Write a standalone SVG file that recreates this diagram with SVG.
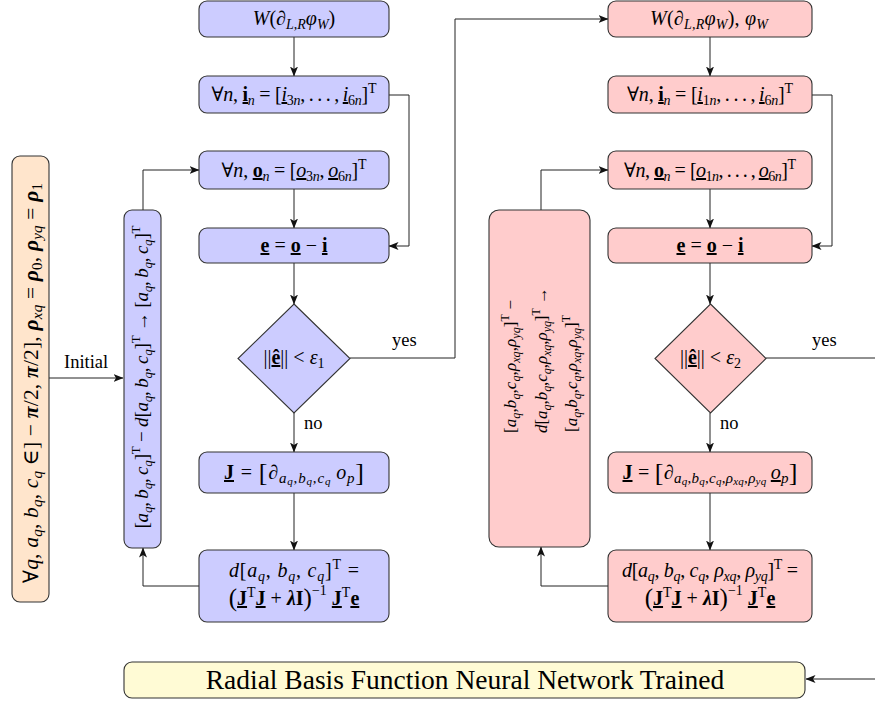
<svg xmlns="http://www.w3.org/2000/svg" width="875" height="702" viewBox="0 0 875 702">
  <style>
    .t { font-family: "Liberation Serif", "DejaVu Serif", serif; font-size: 20px; fill: #000; text-anchor: middle; }
    .v { font-size: 19px; }
    .vo { font-size: 21.5px; }
    .vr { font-size: 17px; text-anchor: start; }
    .lbl { font-family: "Liberation Serif", "DejaVu Serif", serif; font-size: 18.5px; fill: #000; }
    .i { font-style: italic; }
    .b { font-weight: bold; }
    .u { text-decoration: underline; }
    .s { font-size: 14px; }
    .js { font-size: 15px; }
    .vs { font-size: 13px; }
    .os { font-size: 15px; }
    .rs { font-size: 12px; }
    .ss { font-size: 11px; }
    .br { font-size: 26px; }
    .pa { font-size: 25px; }
    .blue { fill: #ccccff; stroke: #333; stroke-width: 1.1; }
    .red { fill: #ffcccc; stroke: #333; stroke-width: 1.1; }
    .orange { fill: #ffe5cc; stroke: #333; stroke-width: 1.1; }
    .yellow { fill: #fffbd5; stroke: #333; stroke-width: 1.1; }
    .c { fill: none; stroke: #222; stroke-width: 1; marker-end: url(#arr); }
  </style>
  <defs>
    <marker id="arr" viewBox="0 0 10 8" refX="9.5" refY="4" markerWidth="10" markerHeight="8" markerUnits="userSpaceOnUse" orient="auto">
      <path d="M0,0 L10,4 L0,8 L2.5,4 z" fill="#111"/>
    </marker>
  </defs>

  <!-- connectors -->
  <g id="connectors">
    <!-- initial input -->
    <path class="c" d="M49,378 H123"/>
    <!-- left (blue) loop -->
    <path class="c" d="M294,37 V76"/>
    <path class="c" d="M389,95 H409 V246 H389"/>
    <path class="c" d="M294,189 V228"/>
    <path class="c" d="M294,263 V304"/>
    <path class="c" d="M294,413 V452"/>
    <path class="c" d="M294,493 V550"/>
    <path class="c" d="M199,586 H143 V548"/>
    <path class="c" d="M143,210 V170 H199"/>
    <path class="c" d="M350,358 H455 V19 H608"/>
    <!-- right (red) loop -->
    <path class="c" d="M710,37 V76"/>
    <path class="c" d="M812,95 H832 V246 H812"/>
    <path class="c" d="M710,189 V228"/>
    <path class="c" d="M710,263 V304"/>
    <path class="c" d="M710,413 V452"/>
    <path class="c" d="M710,493 V550"/>
    <path class="c" d="M608,586 H541 V547"/>
    <path class="c" d="M541,210 V170 H608"/>
    <path class="c" d="M766,358 H885 V679 H806"/>
    <!-- edge labels -->
    <text class="lbl" x="64" y="368">Initial</text>
    <text class="lbl" x="392" y="346">yes</text>
    <text class="lbl" x="304" y="429">no</text>
    <text class="lbl" x="812" y="346">yes</text>
    <text class="lbl" x="720" y="429">no</text>
  </g>

  <!-- initial parameters -->
  <g id="init">
    <rect class="orange" x="12" y="156" width="37" height="446" rx="8"/>
    <text class="t vo" transform="translate(38,383) rotate(-90)" textLength="400" lengthAdjust="spacing">∀<tspan class="i">q</tspan>, <tspan class="i">a</tspan><tspan class="os i" dy="4">q</tspan><tspan dy="-4">, </tspan><tspan class="i">b</tspan><tspan class="os i" dy="4">q</tspan><tspan dy="-4">, </tspan><tspan class="i">c</tspan><tspan class="os i" dy="4">q</tspan><tspan dy="-4"> ∈] − </tspan><tspan class="i b">π</tspan><tspan>/2, </tspan><tspan class="i b">π</tspan><tspan>/2], </tspan><tspan class="i b">ρ</tspan><tspan class="os i" dy="4">xq</tspan><tspan dy="-4"> = </tspan><tspan class="i b">ρ</tspan><tspan class="os" dy="4">0</tspan><tspan dy="-4">, </tspan><tspan class="i b">ρ</tspan><tspan class="os i" dy="4">yq</tspan><tspan dy="-4"> = </tspan><tspan class="i b">ρ</tspan><tspan class="os" dy="4">1</tspan></text>
  </g>

  <!-- blue column -->
  <g id="b-w">
    <rect class="blue" x="199" y="1" width="190" height="36" rx="8"/>
    <text class="t" x="294" y="25"><tspan class="i">W</tspan>(∂<tspan class="s i" dy="4">L,R</tspan><tspan class="i" dy="-4">φ</tspan><tspan class="s i" dy="4">W</tspan><tspan dy="-4">)</tspan></text>
  </g>
  <g id="b-in">
    <rect class="blue" x="199" y="76" width="190" height="37" rx="8"/>
    <text class="t" x="294" y="101" textLength="165" lengthAdjust="spacing">∀<tspan class="i">n</tspan>, <tspan class="b u">i</tspan><tspan class="s i" dy="4">n</tspan><tspan dy="-4"> = [</tspan><tspan class="i u">i</tspan><tspan class="s" dy="4">3<tspan class="i">n</tspan></tspan><tspan dy="-4">,&#8201;.&#8201;.&#8201;.&#8201;,&#8201;</tspan><tspan class="i u">i</tspan><tspan class="s" dy="4">6<tspan class="i">n</tspan></tspan><tspan dy="-4">]</tspan><tspan class="s" dy="-8">T</tspan></text>
  </g>
  <g id="b-out">
    <rect class="blue" x="199" y="151" width="190" height="38" rx="8"/>
    <text class="t" x="294" y="177" textLength="145" lengthAdjust="spacing">∀<tspan class="i">n</tspan>, <tspan class="b u">o</tspan><tspan class="s i" dy="4">n</tspan><tspan dy="-4"> = [</tspan><tspan class="i u">o</tspan><tspan class="s" dy="4">3<tspan class="i">n</tspan></tspan><tspan dy="-4">,&#8201;</tspan><tspan class="i u">o</tspan><tspan class="s" dy="4">6<tspan class="i">n</tspan></tspan><tspan dy="-4">]</tspan><tspan class="s" dy="-8">T</tspan></text>
  </g>
  <g id="b-err">
    <rect class="blue" x="199" y="228" width="190" height="35" rx="8"/>
    <text class="t" x="294" y="252"><tspan class="b u">e</tspan> = <tspan class="b u">o</tspan> − <tspan class="b u">i</tspan></text>
  </g>
  <g id="b-test">
    <path class="blue" d="M294,304 L350,358.5 L294,413 L238,358.5 z"/>
    <text class="t" x="294" y="364">||<tspan class="b u">ê</tspan>|| &lt; <tspan class="i">ε</tspan><tspan class="s" dy="4">1</tspan></text>
  </g>
  <g id="b-jac">
    <rect class="blue" x="199" y="452" width="190" height="41" rx="8"/>
    <text class="t" x="294" y="479" textLength="140" lengthAdjust="spacing"><tspan class="b u">J</tspan> = <tspan class="br" dy="2">[</tspan><tspan dy="-2">∂</tspan><tspan class="js i" dy="4">a</tspan><tspan class="ss i" dy="2">q</tspan><tspan class="js" dy="-2">,</tspan><tspan class="js i">b</tspan><tspan class="ss i" dy="2">q</tspan><tspan class="js" dy="-2">,</tspan><tspan class="js i">c</tspan><tspan class="ss i" dy="2">q</tspan><tspan class="i" dy="-6">&#8201;o</tspan><tspan class="js i" dy="4">p</tspan><tspan class="br" dy="-2">]</tspan></text>
  </g>
  <g id="b-step">
    <rect class="blue" x="199" y="550" width="190" height="72" rx="8"/>
    <text class="t" x="294" y="577" textLength="130" lengthAdjust="spacing"><tspan class="i">d</tspan>[<tspan class="i">a</tspan><tspan class="s i" dy="4">q</tspan><tspan dy="-4">, </tspan><tspan class="i">b</tspan><tspan class="s i" dy="4">q</tspan><tspan dy="-4">, </tspan><tspan class="i">c</tspan><tspan class="s i" dy="4">q</tspan><tspan dy="-4">]</tspan><tspan class="s" dy="-8">T</tspan><tspan dy="8"> =</tspan></text>
    <text class="t" x="294" y="605"><tspan class="pa" dy="1">(</tspan><tspan class="b u" dy="-1">J</tspan><tspan class="s" dy="-8">T</tspan><tspan class="b u" dy="8">J</tspan> + <tspan class="i b">λ</tspan><tspan class="b">I</tspan><tspan class="pa" dy="1">)</tspan><tspan class="s" dy="-11">−1</tspan><tspan dy="10"> </tspan><tspan class="b u">J</tspan><tspan class="s" dy="-8">T</tspan><tspan class="b u" dy="8">e</tspan></text>
  </g>
  <g id="b-update">
    <rect class="blue" x="124" y="210" width="37" height="338" rx="8"/>
    <text class="t v" transform="translate(148,377) rotate(-90)" textLength="303" lengthAdjust="spacing">[<tspan class="i">a</tspan><tspan class="vs i" dy="4">q</tspan><tspan dy="-4">,&#8201;</tspan><tspan class="i">b</tspan><tspan class="vs i" dy="4">q</tspan><tspan dy="-4">,&#8201;</tspan><tspan class="i">c</tspan><tspan class="vs i" dy="4">q</tspan><tspan dy="-4">]</tspan><tspan class="vs" dy="-8">T</tspan><tspan dy="8"> − </tspan><tspan class="i">d</tspan>[<tspan class="i">a</tspan><tspan class="vs i" dy="4">q</tspan><tspan dy="-4">,&#8201;</tspan><tspan class="i">b</tspan><tspan class="vs i" dy="4">q</tspan><tspan dy="-4">,&#8201;</tspan><tspan class="i">c</tspan><tspan class="vs i" dy="4">q</tspan><tspan dy="-4">]</tspan><tspan class="vs" dy="-8">T</tspan><tspan dy="8"> → [</tspan><tspan class="i">a</tspan><tspan class="vs i" dy="4">q</tspan><tspan dy="-4">,&#8201;</tspan><tspan class="i">b</tspan><tspan class="vs i" dy="4">q</tspan><tspan dy="-4">,&#8201;</tspan><tspan class="i">c</tspan><tspan class="vs i" dy="4">q</tspan><tspan dy="-4">]</tspan><tspan class="vs" dy="-8">T</tspan></text>
  </g>

  <!-- red column -->
  <g id="r-w">
    <rect class="red" x="608" y="1" width="204" height="36" rx="8"/>
    <text class="t" x="709" y="25" textLength="118" lengthAdjust="spacing"><tspan class="i">W</tspan>(∂<tspan class="s i" dy="4">L,R</tspan><tspan class="i" dy="-4">φ</tspan><tspan class="s i" dy="4">W</tspan><tspan dy="-4">),  </tspan><tspan class="i">φ</tspan><tspan class="s i" dy="4">W</tspan></text>
  </g>
  <g id="r-in">
    <rect class="red" x="608" y="76" width="204" height="37" rx="8"/>
    <text class="t" x="710" y="101" textLength="166" lengthAdjust="spacing">∀<tspan class="i">n</tspan>, <tspan class="b u">i</tspan><tspan class="s i" dy="4">n</tspan><tspan dy="-4"> = [</tspan><tspan class="i u">i</tspan><tspan class="s" dy="4">1<tspan class="i">n</tspan></tspan><tspan dy="-4">,&#8201;.&#8201;.&#8201;.&#8201;,&#8201;</tspan><tspan class="i u">i</tspan><tspan class="s" dy="4">6<tspan class="i">n</tspan></tspan><tspan dy="-4">]</tspan><tspan class="s" dy="-8">T</tspan></text>
  </g>
  <g id="r-out">
    <rect class="red" x="608" y="151" width="204" height="38" rx="8"/>
    <text class="t" x="710" y="177" textLength="172" lengthAdjust="spacing">∀<tspan class="i">n</tspan>, <tspan class="b u">o</tspan><tspan class="s i" dy="4">n</tspan><tspan dy="-4"> = [</tspan><tspan class="i u">o</tspan><tspan class="s" dy="4">1<tspan class="i">n</tspan></tspan><tspan dy="-4">,&#8201;.&#8201;.&#8201;.&#8201;,&#8201;</tspan><tspan class="i u">o</tspan><tspan class="s" dy="4">6<tspan class="i">n</tspan></tspan><tspan dy="-4">]</tspan><tspan class="s" dy="-8">T</tspan></text>
  </g>
  <g id="r-err">
    <rect class="red" x="608" y="228" width="204" height="35" rx="8"/>
    <text class="t" x="710" y="252"><tspan class="b u">e</tspan> = <tspan class="b u">o</tspan> − <tspan class="b u">i</tspan></text>
  </g>
  <g id="r-test">
    <path class="red" d="M710.5,304 L766,358.5 L710.5,413 L655,358.5 z"/>
    <text class="t" x="710.5" y="364">||<tspan class="b u">ê</tspan>|| &lt; <tspan class="i">ε</tspan><tspan class="s" dy="4">2</tspan></text>
  </g>
  <g id="r-jac">
    <rect class="red" x="608" y="452" width="204" height="41" rx="8"/>
    <text class="t" x="710" y="479" textLength="175" lengthAdjust="spacing"><tspan class="b u">J</tspan> = <tspan class="br" dy="2">[</tspan><tspan dy="-2">∂</tspan><tspan class="js i" dy="4">a</tspan><tspan class="ss i" dy="2">q</tspan><tspan class="js" dy="-2">,</tspan><tspan class="js i">b</tspan><tspan class="ss i" dy="2">q</tspan><tspan class="js" dy="-2">,</tspan><tspan class="js i">c</tspan><tspan class="ss i" dy="2">q</tspan><tspan class="js" dy="-2">,</tspan><tspan class="js i">ρ</tspan><tspan class="ss i" dy="2">xq</tspan><tspan class="js" dy="-2">,</tspan><tspan class="js i">ρ</tspan><tspan class="ss i" dy="2">yq</tspan><tspan dy="-6">&#8201;</tspan><tspan class="i u">o</tspan><tspan class="js i" dy="4">p</tspan><tspan class="br" dy="-2">]</tspan></text>
  </g>
  <g id="r-step">
    <rect class="red" x="608" y="550" width="204" height="72" rx="8"/>
    <text class="t" x="710" y="577" textLength="176" lengthAdjust="spacing"><tspan class="i">d</tspan>[<tspan class="i">a</tspan><tspan class="s i" dy="4">q</tspan><tspan dy="-4">, </tspan><tspan class="i">b</tspan><tspan class="s i" dy="4">q</tspan><tspan dy="-4">, </tspan><tspan class="i">c</tspan><tspan class="s i" dy="4">q</tspan><tspan dy="-4">, </tspan><tspan class="i">ρ</tspan><tspan class="s i" dy="4">xq</tspan><tspan dy="-4">, </tspan><tspan class="i">ρ</tspan><tspan class="s i" dy="4">yq</tspan><tspan dy="-4">]</tspan><tspan class="s" dy="-8">T</tspan><tspan dy="8"> =</tspan></text>
    <text class="t" x="710" y="605"><tspan class="pa" dy="1">(</tspan><tspan class="b u" dy="-1">J</tspan><tspan class="s" dy="-8">T</tspan><tspan class="b u" dy="8">J</tspan> + <tspan class="i b">λ</tspan><tspan class="b">I</tspan><tspan class="pa" dy="1">)</tspan><tspan class="s" dy="-11">−1</tspan><tspan dy="10"> </tspan><tspan class="b u">J</tspan><tspan class="s" dy="-8">T</tspan><tspan class="b u" dy="8">e</tspan></text>
  </g>
  <g id="r-update">
    <rect class="red" x="489" y="210" width="101" height="337" rx="10"/>
    <text class="t vr" transform="translate(516,433) rotate(-90)" textLength="133" lengthAdjust="spacing">[<tspan class="i">a</tspan><tspan class="rs i" dy="4">q</tspan><tspan dy="-4">,</tspan><tspan class="i">b</tspan><tspan class="rs i" dy="4">q</tspan><tspan dy="-4">,</tspan><tspan class="i">c</tspan><tspan class="rs i" dy="4">q</tspan><tspan dy="-4">,</tspan><tspan class="i">ρ</tspan><tspan class="rs i" dy="4">xq</tspan><tspan dy="-4">,</tspan><tspan class="i">ρ</tspan><tspan class="rs i" dy="4">yq</tspan><tspan dy="-4">]</tspan><tspan class="rs" dy="-7">T</tspan><tspan dy="7"> −</tspan></text>
    <text class="t vr" transform="translate(547,433) rotate(-90)" textLength="146" lengthAdjust="spacing"><tspan class="i">d</tspan>[<tspan class="i">a</tspan><tspan class="rs i" dy="4">q</tspan><tspan dy="-4">,</tspan><tspan class="i">b</tspan><tspan class="rs i" dy="4">q</tspan><tspan dy="-4">,</tspan><tspan class="i">c</tspan><tspan class="rs i" dy="4">q</tspan><tspan dy="-4">,</tspan><tspan class="i">ρ</tspan><tspan class="rs i" dy="4">xq</tspan><tspan dy="-4">,</tspan><tspan class="i">ρ</tspan><tspan class="rs i" dy="4">yq</tspan><tspan dy="-4">]</tspan><tspan class="rs" dy="-7">T</tspan><tspan dy="7"> →</tspan></text>
    <text class="t vr" transform="translate(577,432) rotate(-90)" textLength="117" lengthAdjust="spacing">[<tspan class="i">a</tspan><tspan class="rs i" dy="4">q</tspan><tspan dy="-4">,</tspan><tspan class="i">b</tspan><tspan class="rs i" dy="4">q</tspan><tspan dy="-4">,</tspan><tspan class="i">c</tspan><tspan class="rs i" dy="4">q</tspan><tspan dy="-4">,</tspan><tspan class="i">ρ</tspan><tspan class="rs i" dy="4">xq</tspan><tspan dy="-4">,</tspan><tspan class="i">ρ</tspan><tspan class="rs i" dy="4">yq</tspan><tspan dy="-4">]</tspan><tspan class="rs" dy="-7">T</tspan></text>
  </g>

  <!-- result -->
  <g id="trained">
    <rect class="yellow" x="124" y="662" width="681" height="36" rx="8"/>
    <text class="t" x="465" y="689" style="font-size:27.5px">Radial Basis Function Neural Network Trained</text>
  </g>
</svg>
